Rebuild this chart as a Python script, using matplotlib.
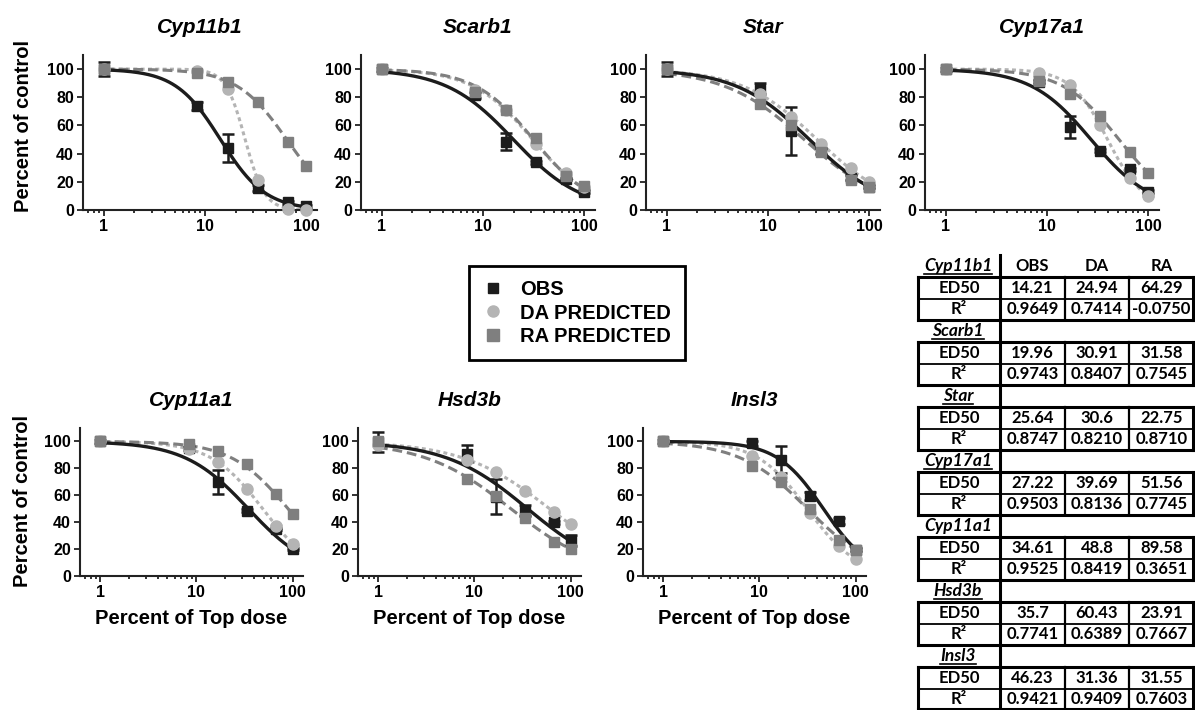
import numpy as np
import matplotlib.pyplot as plt
from matplotlib.lines import Line2D

plt.rcParams['font.family'] = ['Liberation Sans', 'DejaVu Sans']
plt.rcParams['font.weight'] = 'bold'

# data
genes = ['Cyp11b1', 'Scarb1', 'Star', 'Cyp17a1', 'Cyp11a1', 'Hsd3b', 'Insl3']
doses = [1, 8.33, 16.67, 33.33, 66.67, 100]

obs = [[100, 74, 44, 15.5, 5.5, 2.5],
       [100, 81.5, 48.5, 34, 22, 13],
       [100, 86, 56, 42, 23, 16.5],
       [100, 91, 59, 42, 29, 13],
       [100, 95, 70, 48.5, 35, 20],
       [99.5, 91, 59, 48.5, 40, 26.5],
       [100, 98.5, 86.5, 59.5, 41, 19.5]]
obs_err = [[5, 3, 10, 2, 1, 1],
           [1, 2, 6, 1, 1, 1],
           [5, 4, 17, 2, 2, 1],
           [1, 1, 8, 1, 1, 1],
           [1, 1, 9, 1, 1, 1],
           [7.5, 6, 13, 4, 1, 4],
           [1, 2, 10, 3, 2, 1]]
da = [[100, 99, 86, 21, 1, 0],
      [100, 85.5, 71, 47, 26, 16.5],
      [100, 82.5, 66, 47, 29.5, 20],
      [100, 97.5, 88.5, 60, 23, 10],
      [100, 94.5, 85, 65, 37.5, 24],
      [97, 86.5, 77, 63, 47.5, 38.5],
      [100, 89.5, 73.5, 46.5, 22, 12.5]]
ra = [[100, 97, 91, 77, 48.5, 31.5],
      [100, 84, 71, 51, 24, 17],
      [100, 75.5, 60, 41, 21, 16.5],
      [100, 91.5, 82.5, 66.5, 41.5, 26.5],
      [100, 98, 93, 83.5, 61, 46],
      [100, 72, 59.5, 43, 25, 20],
      [100, 82, 69.5, 50, 27, 19.5]]

# fitted curve parameters (ED50 from the table, Hill slope estimated)
ed50_obs = ['14.21', '19.96', '25.64', '27.22', '34.61', '35.7', '46.23']
ed50_da = ['24.94', '30.91', '30.6', '39.69', '48.8', '60.43', '31.36']
ed50_ra = ['64.29', '31.58', '22.75', '51.56', '89.58', '23.91', '31.55']
r2_obs = ['0.9649', '0.9743', '0.8747', '0.9503', '0.9525', '0.7741', '0.9421']
r2_da = ['0.7414', '0.8407', '0.8210', '0.8136', '0.8419', '0.6389', '0.9409']
r2_ra = ['-0.0750', '0.7545', '0.8710', '0.7745', '0.3651', '0.7667', '0.7603']
slope_obs = [1.95, 1.3, 1.19, 1.46, 1.31, 1.02, 1.8]
slope_da = [4.5, 1.45, 1.17, 2.38, 1.6, 0.95, 1.68]
slope_ra = [1.75, 1.5, 1.09, 1.55, 1.46, 0.97, 1.23]

OBS_C = '#1c1c1c'
DA_C = '#b4b4b4'
RA_C = '#7f7f7f'

W, H = 1195, 710
fig = plt.figure(figsize=(W / 100, H / 100), dpi=100)


def px_axes(x0, y0, w, h):
    return fig.add_axes([x0 / W, 1 - (y0 + h) / H, w / W, h / H])


def hill(x, e, h):
    return 100 / (1 + (x / e) ** h)


axes = [px_axes(x, 55, 234, 155) for x in [83, 361, 646, 925]]
axes += [px_axes(x, 428, 223, 148) for x in [80, 358, 643]]

xs = np.logspace(0, 2, 300)
for i, ax in enumerate(axes):
    ax.plot(xs, hill(xs, float(ed50_da[i]), slope_da[i]), color=DA_C, lw=2.2,
            ls=(0, (1.3, 1.1)))
    ax.plot(xs, hill(xs, float(ed50_ra[i]), slope_ra[i]), color=RA_C, lw=2.2,
            ls=(0, (3.2, 1.6)))
    ax.plot(xs, hill(xs, float(ed50_obs[i]), slope_obs[i]), color=OBS_C, lw=2.4)
    ax.errorbar(doses, obs[i], yerr=obs_err[i], fmt='s', color=OBS_C, ms=7,
                capsize=4, elinewidth=1.8, capthick=1.8, clip_on=False, zorder=4)
    ax.plot(doses, da[i], 'o', color=DA_C, ms=8, ls='none', clip_on=False, zorder=5)
    ax.plot(doses, ra[i], 's', color=RA_C, ms=7.5, ls='none', clip_on=False, zorder=6)

    ax.set_xscale('log')
    ax.set_xlim(0.62, 128)
    ax.set_ylim(0, 110)
    ax.set_yticks([0, 20, 40, 60, 80, 100])
    ax.set_xticks([1, 10, 100])
    ax.set_xticklabels(['1', '10', '100'])
    for s in ['top', 'right']:
        ax.spines[s].set_visible(False)
    for s in ['left', 'bottom']:
        ax.spines[s].set_linewidth(1.5)
        ax.spines[s].set_color('#222222')
    ax.tick_params(which='both', direction='out', width=1.3, color='#222222',
                   labelsize=11.5, pad=2)
    ax.tick_params(which='major', length=4.5)
    ax.tick_params(which='minor', length=2.5)
    ax.set_title(genes[i], fontsize=15, fontweight='bold', fontstyle='italic', pad=16)

for ax in [axes[0], axes[4]]:
    ax.set_ylabel('Percent of control', fontsize=14.5, fontweight='bold')
axes[0].yaxis.set_label_coords(-0.214, 0.54)
axes[4].yaxis.set_label_coords(-0.215, 0.507)
for ax in axes[4:]:
    ax.set_xlabel('Percent of Top dose', fontsize=14.5, fontweight='bold')
    ax.xaxis.set_label_coords(0.5, -0.225)

handles = [Line2D([], [], marker='s', color=OBS_C, ls='none', ms=7),
           Line2D([], [], marker='o', color=DA_C, ls='none', ms=8),
           Line2D([], [], marker='s', color=RA_C, ls='none', ms=8)]
leg = fig.legend(handles, ['OBS', 'DA PREDICTED', 'RA PREDICTED'], loc='center',
                 bbox_to_anchor=(577 / W, 1 - 313 / H), frameon=True, fancybox=False,
                 edgecolor='black', framealpha=1, prop={'size': 14.5, 'weight': 'bold'},
                 handlelength=1.0, handletextpad=0.85, borderpad=0.7,
                 labelspacing=0.22, borderaxespad=0)
leg.get_frame().set_linewidth(2)

# summary table on the right, drawn in pixel coordinates
tax = fig.add_axes([0, 0, 1, 1])
tax.set_xlim(0, W)
tax.set_ylim(H, 0)
tax.set_axis_off()

xl, c1, c2, c3, xr = 918, 1000, 1065, 1129, 1193.5
centers = [(c1 + c2) / 2, (c2 + c3) / 2, (c3 + xr) / 2]
tfont = ['Lato', 'DejaVu Sans']
tsize = 12
thick, thin = 2.2, 1.3

tax.plot([c1, c1], [255, 710], color='k', lw=thick)
for j, hdr in enumerate(['OBS', 'DA', 'RA']):
    tax.text(centers[j], 266, hdr, ha='center', va='center', family=tfont,
             fontsize=tsize, fontweight='bold')

labels = []
for i, g in enumerate(genes):
    top = 277 + 65 * i
    mid = top + 21.5
    bot = min(top + 43, 709)
    tax.plot([xl, xr], [top, top], color='k', lw=thick)
    tax.plot([xl, xr], [bot, bot], color='k', lw=thick)
    tax.plot([xl, xr], [mid, mid], color='k', lw=thin)
    tax.plot([xl, xl], [top, bot], color='k', lw=thick)
    tax.plot([xr, xr], [top, bot], color='k', lw=thick)
    for c in [c2, c3]:
        tax.plot([c, c], [top, bot], color='k', lw=1.6)
    t = tax.text(958, top - 11, g, ha='center', va='center', family=tfont,
                 fontsize=12.5, fontweight='bold', fontstyle='italic')
    if g != 'Cyp11a1':
        labels.append(t)
    tax.text(959, top + 11, 'ED50', ha='center', va='center', family=tfont,
             fontsize=tsize, fontweight='bold')
    tax.text(959, mid + 10.5, 'R²', ha='center', va='center', family=tfont,
             fontsize=tsize, fontweight='bold')
    for j, vals in enumerate([ed50_obs, ed50_da, ed50_ra]):
        tax.text(centers[j], top + 11, vals[i], ha='center', va='center',
                 family=tfont, fontsize=tsize, fontweight='bold')
    for j, vals in enumerate([r2_obs, r2_da, r2_ra]):
        tax.text(centers[j], mid + 10.5, vals[i], ha='center', va='center',
                 family=tfont, fontsize=tsize, fontweight='bold')

# underline the gene names
fig.canvas.draw()
r = fig.canvas.get_renderer()
for t in labels:
    bb = t.get_window_extent(r)
    y = H - bb.y0 - 0.5
    tax.plot([bb.x0, bb.x1], [y, y], color='k', lw=1.2)

fig.savefig('out.png', dpi=100)
